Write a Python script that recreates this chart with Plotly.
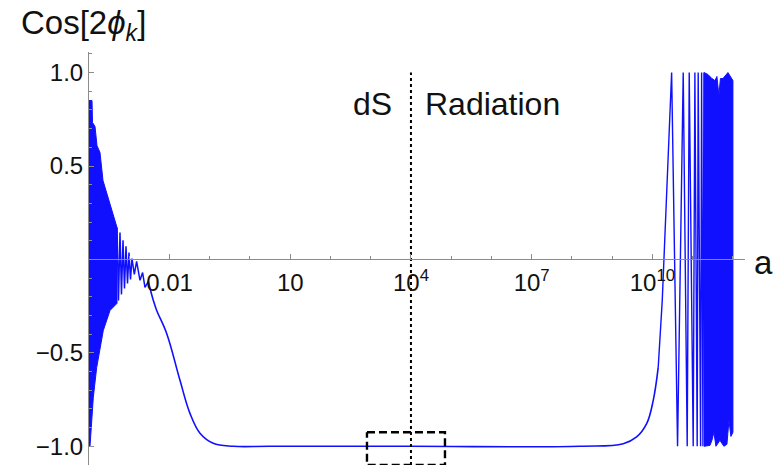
import math
import plotly.graph_objects as go

# ---------------- data (log10 a, Cos[2 phi_k]) ----------------
# early-time burst: unresolved oscillations -> upper / lower envelope
burst_left_logA_upper = [-4.0, -3.925, -3.913, -3.851, -3.801, -3.727, -3.652, -3.578, -3.478, -3.404, -3.354, -3.304]
burst_left_upper = [0.85, 0.85, 0.733, 0.711, 0.609, 0.572, 0.422, 0.369, 0.305, 0.241, 0.209, 0.171]
burst_left_logA_lower = [-4.0, -3.975, -3.933, -3.893, -3.809, -3.727, -3.645, -3.478, -3.354, -3.304]
burst_left_lower = [-1.0, -1.0, -0.898, -0.738, -0.578, -0.487, -0.380, -0.273, -0.246, -0.235]

# resolved decaying wiggles (extrema)
wiggle_left_logA = [-3.304, -3.267, -3.230, -3.193, -3.155, -3.118, -3.081, -3.043, -3.006,
                    -2.969, -2.932, -2.874, -2.817, -2.733, -2.668, -2.609, -2.527]
wiggle_left_val = [0.171, -0.219, 0.144, -0.187, 0.102, -0.155, 0.070, -0.128, 0.037,
                   -0.107, 0.005, -0.080, -0.011, -0.112, -0.070, -0.150, -0.118]

# smooth part: descent to -1, plateau, rise
smooth_logA = [-2.527, -2.402, -2.318, -2.070, -1.739, -1.491, -1.242, -0.912, -0.415,
               0.5, 4.0, 8.198, 9.275, 9.607, 9.856, 10.020, 10.144]
smooth_val = [-0.118, -0.219, -0.273, -0.396, -0.647, -0.824, -0.930, -0.984, -1.0,
              -1.0, -1.0, -1.0, -0.986, -0.950, -0.879, -0.754, -0.576]

# late-time resolved oscillations (extrema)
wiggle_right_logA = [10.144, 10.244, 10.477, 10.624, 10.765, 10.864, 10.914, 11.013, 11.055,
                     11.112, 11.137, 11.197, 11.222, 11.255, 11.280]
wiggle_right_val = [-0.576, -0.219, 1.0, -1.0, 1.0, -1.0, 1.0, -1.0, 1.0,
                    -1.0, 1.0, -1.0, 1.0, -1.0, 1.0]

# late-time burst: unresolved oscillations -> envelope
burst_right_logA_upper = [11.280, 11.379, 11.478, 11.553, 11.602, 11.652, 11.689, 11.752, 11.876, 11.925, 12.0]
burst_right_upper = [1.0, 0.99, 0.968, 0.957, 0.979, 0.877, 0.968, 0.968, 1.0, 0.984, 0.957]
burst_right_logA_lower = [11.280, 11.429, 11.478, 11.528, 11.578, 11.677, 11.776, 11.851, 11.901, 11.950, 12.0]
burst_right_lower = [-1.0, -0.995, -0.968, -0.925, -1.0, -0.968, -1.0, -0.989, -0.861, -0.947, -0.925]

# dS / radiation boundary and highlighted box
era_boundary_a = 1.0e4
era_boundary_y = [-1.10, 1.0]
box_a = [807.0, 7.0e4]
box_y = [-1.10, -0.925]

# axis ticks
x_major_vals = [1e-2, 1e1, 1e4, 1e7, 1e10]
x_major_text = ["0.01", "10", "10<sup>4</sup>", "10<sup>7</sup>", "10<sup>10</sup>"]
x_minor_vals = [1e-3, 1e-1, 1e0, 1e2, 1e3, 1e5, 1e6, 1e8, 1e9, 1e11, 1e12]
y_major_vals = [-1.0, -0.5, 0.5, 1.0]
y_major_text = ["\u22121.0", "\u22120.5", "0.5", "1.0"]
y_minor_vals = [-1.1, -0.9, -0.8, -0.7, -0.6, -0.4, -0.3, -0.2, -0.1, 0.1, 0.2, 0.3, 0.4,
                0.6, 0.7, 0.8, 0.9, 1.1]

x_range_log = [-4.0, 12.3]
y_range = [-1.10, 1.11]

BLUE = "#1010ff"
AXIS = "#8c8c8c"
FONT = "Liberation Sans, Arial, sans-serif"
TXT = "#111111"


def to_a(logs):
    return [10 ** v for v in logs]


fig = go.Figure()

# left dense band
fig.add_trace(go.Scatter(
    x=to_a(burst_left_logA_upper) + to_a(burst_left_logA_lower[::-1]),
    y=burst_left_upper + burst_left_lower[::-1],
    mode="lines", fill="toself", fillcolor=BLUE,
    line=dict(color=BLUE, width=1), hoverinfo="skip"))
# left wiggles
fig.add_trace(go.Scatter(x=to_a(wiggle_left_logA), y=wiggle_left_val, mode="lines",
                         line=dict(color=BLUE, width=1.5), hoverinfo="skip"))
# smooth part
fig.add_trace(go.Scatter(x=to_a(smooth_logA), y=smooth_val, mode="lines",
                         line=dict(color=BLUE, width=1.6, shape="spline", smoothing=1.1),
                         hoverinfo="skip"))
# right wiggles
fig.add_trace(go.Scatter(x=to_a(wiggle_right_logA), y=wiggle_right_val, mode="lines",
                         line=dict(color=BLUE, width=1.4), hoverinfo="skip"))
# right dense band
fig.add_trace(go.Scatter(
    x=to_a(burst_right_logA_upper) + to_a(burst_right_logA_lower[::-1]),
    y=burst_right_upper + burst_right_lower[::-1],
    mode="lines", fill="toself", fillcolor=BLUE,
    line=dict(color=BLUE, width=1), hoverinfo="skip"))

# era boundary (dotted)
fig.add_trace(go.Scatter(x=[era_boundary_a, era_boundary_a], y=era_boundary_y, mode="lines",
                         line=dict(color="black", width=2, dash="3px,3px"),
                         cliponaxis=False, hoverinfo="skip"))
# dashed box
fig.add_trace(go.Scatter(x=[box_a[0], box_a[1], box_a[1], box_a[0], box_a[0]],
                         y=[box_y[1], box_y[1], box_y[0], box_y[0], box_y[1]],
                         mode="lines", line=dict(color="black", width=2.4, dash="8px,4px"),
                         cliponaxis=False, hoverinfo="skip"))

fig.update_layout(
    width=779, height=468,
    margin=dict(l=89, r=34, t=52, b=3),
    paper_bgcolor="white", plot_bgcolor="white",
    showlegend=False, hovermode=False,
    font=dict(family=FONT, size=23, color=TXT),
    xaxis=dict(
        type="log", range=x_range_log, anchor="free",
        position=(0 - y_range[0]) / (y_range[1] - y_range[0]),
        showline=True, linecolor=AXIS, linewidth=1,
        ticks="inside", ticklen=5, tickwidth=1, tickcolor=AXIS,
        tickmode="array", tickvals=x_major_vals, ticktext=x_major_text,
        ticklabelstandoff=2,
        minor=dict(tickmode="array", tickvals=x_minor_vals, ticks="inside", ticklen=3,
                   tickwidth=1, tickcolor=AXIS, showgrid=False),
        showgrid=False, zeroline=False, layer="above traces",
        tickfont=dict(family=FONT, size=24, color=TXT),
    ),
    yaxis=dict(
        range=y_range, showline=True, linecolor=AXIS, linewidth=1,
        ticks="inside", ticklen=5, tickwidth=1, tickcolor=AXIS,
        tickmode="array", tickvals=y_major_vals, ticktext=y_major_text,
        minor=dict(tickmode="array", tickvals=y_minor_vals, ticks="inside", ticklen=3,
                   tickwidth=1, tickcolor=AXIS, showgrid=False),
        showgrid=False, zeroline=False, layer="above traces",
        tickfont=dict(family=FONT, size=24, color=TXT),
    ),
    annotations=[
        dict(text="Cos[2<i>\u03d5</i><sub><i>k</i></sub>]", xref="paper", yref="paper",
             x=-0.107, y=1.01, xanchor="left", yanchor="bottom", showarrow=False,
             font=dict(family=FONT, size=33, color=TXT)),
        dict(text="a", xref="paper", yref="y", x=1.011, y=0, xanchor="left", yanchor="middle",
             yshift=-3, showarrow=False, font=dict(family=FONT, size=33, color=TXT)),
        dict(text="dS", xref="x", yref="y", x=math.log10(era_boundary_a), y=0.833,
             xanchor="right", yanchor="middle", xshift=-17, showarrow=False,
             font=dict(family=FONT, size=32, color=TXT)),
        dict(text="Radiation", xref="x", yref="y", x=math.log10(era_boundary_a), y=0.833,
             xanchor="left", yanchor="middle", xshift=12, showarrow=False,
             font=dict(family=FONT, size=32, color=TXT)),
    ],
)

fig.write_html("out.html")
